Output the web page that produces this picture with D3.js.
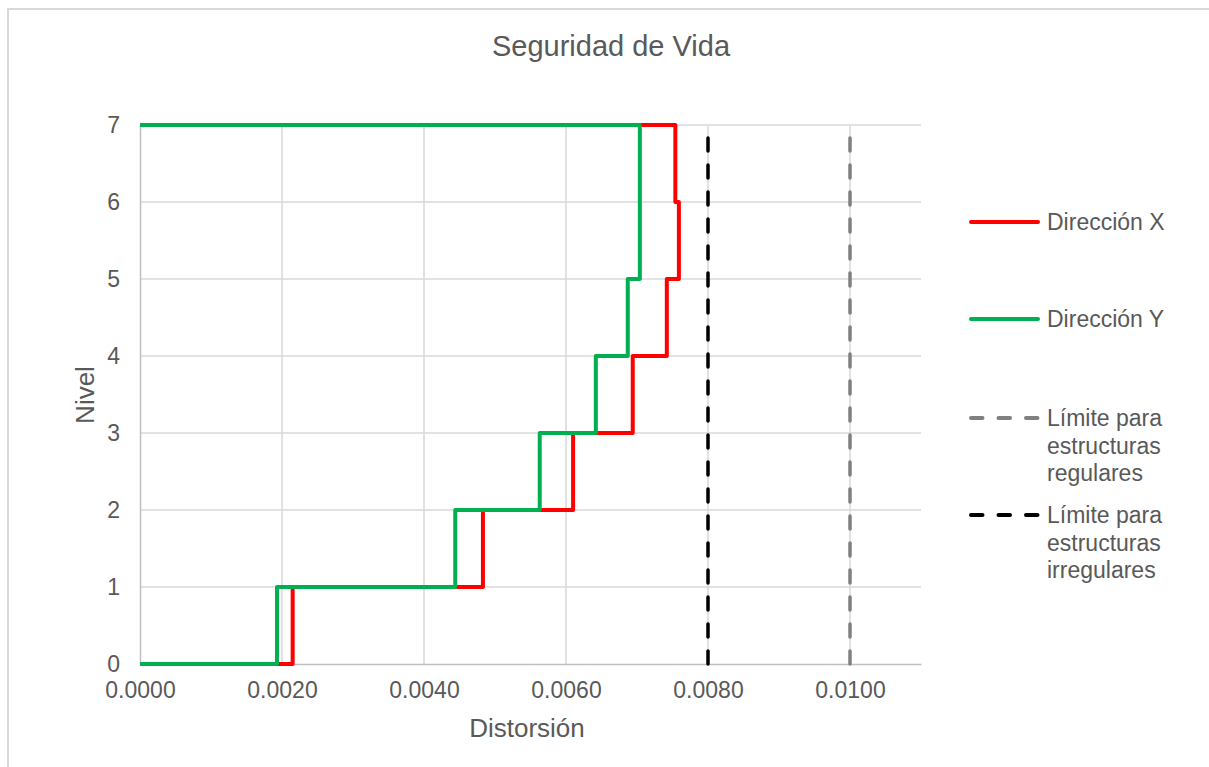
<!DOCTYPE html>
<html>
<head>
<meta charset="utf-8">
<script src="https://cdn.jsdelivr.net/npm/d3@7"></script>
<style>
  body { margin: 0; background: #fff; }
  text { font-family: "Liberation Sans", Arial, sans-serif; fill: #595959; }
</style>
</head>
<body>
<div id="chart"></div>
<script>
// ========== Data ==========
// story drift per level (level 1..7)
const levels = [1, 2, 3, 4, 5, 6, 7];
const driftX = [0.00215, 0.00483, 0.0061, 0.00694, 0.00742, 0.00759, 0.00754];
const driftY = [0.00193, 0.00444, 0.00563, 0.00642, 0.00687, 0.00704, 0.00704];
const limitRegular = 0.01;
const limitIrregular = 0.008;
const xTicks = [0, 0.002, 0.004, 0.006, 0.008, 0.01];
const yTicks = [0, 1, 2, 3, 4, 5, 6, 7];

// ========== Helpers ==========
// step outline: (0,0) -> (d1,0) -> (d1,1) -> (d2,1) ... -> (d7,7) -> (0,7)
function stepPoints(drifts) {
  const pts = [{ d: 0, lv: 0 }];
  drifts.forEach((d, i) => {
    pts.push({ d, lv: levels[i] - 1 });
    pts.push({ d, lv: levels[i] });
  });
  pts.push({ d: 0, lv: levels[levels.length - 1] });
  return pts;
}

// ========== Render ==========
const width = 1209;
const height = 767;
const margin = { top: 125, right: 288, bottom: 103, left: 140 };

const svg = d3.select("#chart").append("svg")
  .attr("width", width)
  .attr("height", height);

// frame
svg.append("rect")
  .attr("x", 8).attr("y", 9)
  .attr("width", 1220).attr("height", 800)
  .attr("fill", "none")
  .attr("stroke", "#d9d9d9")
  .attr("stroke-width", 2);

const x = d3.scaleLinear()
  .domain([0, 0.011])
  .range([margin.left, width - margin.right]);

const y = d3.scaleLinear()
  .domain([0, 7])
  .range([height - margin.bottom, margin.top]);

// Gridlines
svg.append("g")
  .selectAll("line")
  .data(xTicks.slice(1))
  .join("line")
  .attr("x1", (d) => x(d)).attr("x2", (d) => x(d))
  .attr("y1", y(0)).attr("y2", y(7))
  .attr("stroke", "#d9d9d9").attr("stroke-width", 1.5);

svg.append("g")
  .selectAll("line")
  .data(yTicks.slice(1))
  .join("line")
  .attr("x1", x(0)).attr("x2", x(0.011))
  .attr("y1", (d) => y(d)).attr("y2", (d) => y(d))
  .attr("stroke", "#d9d9d9").attr("stroke-width", 1.5);

// Axes
const xAxis = svg.append("g")
  .attr("transform", `translate(0,${y(0)})`)
  .call(d3.axisBottom(x).tickValues(xTicks).tickFormat(d3.format(".4f")).tickSize(0).tickPadding(18));
xAxis.select(".domain").attr("stroke", "#bfbfbf").attr("stroke-width", 1.5);
xAxis.selectAll("text").style("font-size", "23px").attr("fill", "#595959");

const yAxis = svg.append("g")
  .attr("transform", `translate(${x(0)},0)`)
  .call(d3.axisLeft(y).tickValues(yTicks).tickFormat(d3.format("d")).tickSize(0).tickPadding(20));
yAxis.select(".domain").attr("stroke", "#bfbfbf").attr("stroke-width", 1.5);
yAxis.selectAll("text").style("font-size", "23px").attr("fill", "#595959");

// Labels
svg.append("text")
  .attr("x", 611).attr("y", 56)
  .attr("text-anchor", "middle")
  .style("font-size", "29px")
  .text("Seguridad de Vida");

svg.append("text")
  .attr("x", 527).attr("y", 737)
  .attr("text-anchor", "middle")
  .style("font-size", "26px")
  .text("Distorsión");

svg.append("text")
  .attr("transform", "rotate(-90)")
  .attr("x", -395).attr("y", 94)
  .attr("text-anchor", "middle")
  .style("font-size", "26px")
  .text("Nivel");

// Lines
const line = d3.line()
  .x((d) => x(d.d))
  .y((d) => y(d.lv));

const series = [
  { name: "Dirección X", color: "#ff0000", data: stepPoints(driftX) },
  { name: "Dirección Y", color: "#00b050", data: stepPoints(driftY) },
];

series.forEach((s) => {
  svg.append("path")
    .datum(s.data)
    .attr("fill", "none")
    .attr("stroke", s.color)
    .attr("stroke-width", 4)
    .attr("stroke-linejoin", "round")
    .attr("d", line);
});

const limits = [
  { value: limitRegular, color: "#808080", label: ["Límite para", "estructuras", "regulares"] },
  { value: limitIrregular, color: "#000000", label: ["Límite para", "estructuras", "irregulares"] },
];

limits.forEach((l) => {
  svg.append("path")
    .datum([{ d: l.value, lv: 0 }, { d: l.value, lv: 7 }])
    .attr("fill", "none")
    .attr("stroke", l.color)
    .attr("stroke-width", 3.5)
    .attr("stroke-linecap", "round")
    .attr("stroke-dasharray", "13,14")
    .attr("d", line);
});

// Legend
const legendItems = [
  { color: "#ff0000", dash: null, label: ["Dirección X"], y: 222 },
  { color: "#00b050", dash: null, label: ["Dirección Y"], y: 319 },
  { color: "#808080", dash: "11.5,16", label: limits[0].label, y: 418 },
  { color: "#000000", dash: "11.5,16", label: limits[1].label, y: 515 },
];

const legend = svg.append("g");
legendItems.forEach((item) => {
  legend.append("line")
    .attr("x1", 971).attr("x2", 1038)
    .attr("y1", item.y).attr("y2", item.y)
    .attr("stroke", item.color)
    .attr("stroke-width", 4)
    .attr("stroke-linecap", "round")
    .attr("stroke-dasharray", item.dash);
  item.label.forEach((t, i) => {
    legend.append("text")
      .attr("x", 1047)
      .attr("y", item.y + i * 27.5)
      .attr("dy", "0.35em")
      .style("font-size", "23px")
      .text(t);
  });
});
</script>
</body>
</html>
